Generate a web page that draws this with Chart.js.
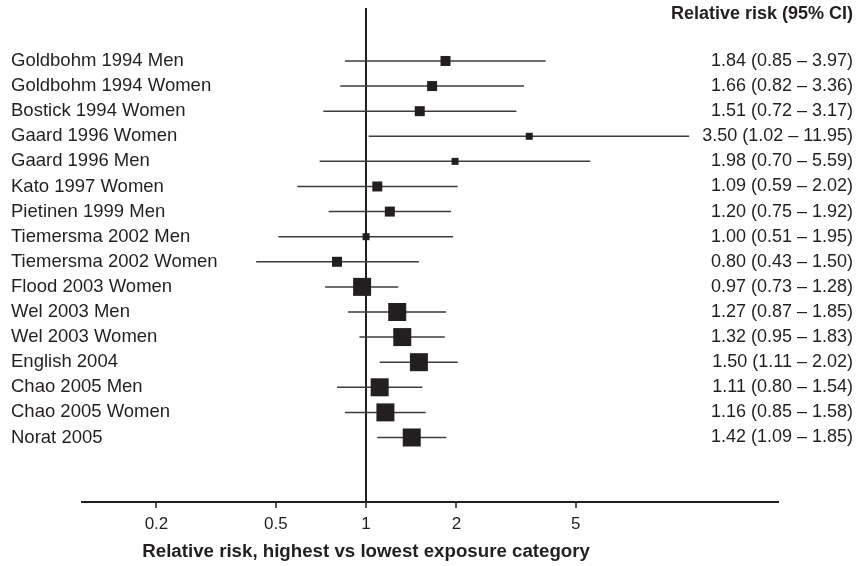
<!DOCTYPE html>
<html>
<head>
<meta charset="utf-8">
<script src="https://cdn.jsdelivr.net/npm/chart.js@4"></script>
<style>
  html, body { margin: 0; padding: 0; background: #ffffff; }
  #wrap { width: 856px; height: 566px; }
</style>
</head>
<body>
<div id="wrap"><canvas id="c" width="856" height="566"></canvas></div>
<script>
// ---- Data ----
const studies = [
  'Goldbohm 1994 Men', 'Goldbohm 1994 Women', 'Bostick 1994 Women', 'Gaard 1996 Women',
  'Gaard 1996 Men', 'Kato 1997 Women', 'Pietinen 1999 Men', 'Tiemersma 2002 Men',
  'Tiemersma 2002 Women', 'Flood 2003 Women', 'Wel 2003 Men', 'Wel 2003 Women',
  'English 2004', 'Chao 2005 Men', 'Chao 2005 Women', 'Norat 2005'
];
const estimates = [1.84, 1.66, 1.51, 3.50, 1.98, 1.09, 1.20, 1.00, 0.80, 0.97, 1.27, 1.32, 1.50, 1.11, 1.16, 1.42];
const lower     = [0.85, 0.82, 0.72, 1.02, 0.70, 0.59, 0.75, 0.51, 0.43, 0.73, 0.87, 0.95, 1.11, 0.80, 0.85, 1.09];
const upper     = [3.97, 3.36, 3.17, 11.95, 5.59, 2.02, 1.92, 1.95, 1.50, 1.28, 1.85, 1.83, 2.02, 1.54, 1.58, 1.85];
const weights   = [10, 10, 10, 7, 7, 10, 10, 7, 10, 18, 18, 18, 18, 18, 18, 18];
const xTicks = [0.2, 0.5, 1, 2, 5];
const headerLabel = 'Relative risk (95% CI)';
const xTitle = 'Relative risk, highest vs lowest exposure category';

// ---- Derived ----
const fmt = v => v.toFixed(2);
const rrText = estimates.map((e, i) => `${fmt(e)} (${fmt(lower[i])} \u2013 ${fmt(upper[i])})`);

const FONT = '"Liberation Sans", Arial, Helvetica, sans-serif';
const INK = '#231f20';

const ciData = [];
studies.forEach((_, i) => {
  ciData.push({ x: lower[i], y: i }, { x: upper[i], y: i }, { x: NaN, y: NaN });
});
const pointData = estimates.map((v, i) => ({ x: v, y: i }));

const xTitlePlugin = {
  id: 'xTitlePlugin',
  afterDraw(chart) {
    const { ctx, scales } = chart;
    const x = scales.x;
    ctx.save();
    ctx.font = 'bold 18.7px ' + FONT;
    ctx.fillStyle = INK;
    ctx.textAlign = 'center';
    ctx.textBaseline = 'middle';
    ctx.fillText(xTitle, x.getPixelForValue(1), x.bottom - 14);
    ctx.restore();
  }
};

const Y_MIN = -2.11, Y_MAX = 17.57;

new Chart(document.getElementById('c'), {
  type: 'scatter',
  data: {
    datasets: [
      {
        label: 'RR',
        data: pointData,
        pointStyle: 'rect',
        pointRadius: ctx => weights[ctx.dataIndex] / Math.SQRT2,
        pointHoverRadius: ctx => weights[ctx.dataIndex] / Math.SQRT2,
        backgroundColor: INK,
        borderWidth: 0,
        yAxisID: 'y',
        order: 0
      },
      {
        label: 'CI',
        data: ciData,
        showLine: true,
        spanGaps: false,
        borderColor: '#3d3d3d',
        borderWidth: 1.5,
        pointRadius: 0,
        pointHoverRadius: 0,
        yAxisID: 'y',
        order: 1
      }
    ]
  },
  options: {
    responsive: false,
    animation: false,
    events: [],
    layout: { autoPadding: false, padding: { left: 11, right: 3, top: 8, bottom: 0 } },
    plugins: { legend: { display: false }, tooltip: { enabled: false }, title: { display: false } },
    scales: {
      x: {
        type: 'logarithmic',
        position: 'bottom',
        min: 0.11293,
        max: 23.81,
        afterBuildTicks: s => { s.ticks = xTicks.map(v => ({ value: v })); },
        afterFit: s => { s.height = 64; s.paddingLeft = 0; s.paddingRight = 0; },
        ticks: {
          callback: v => String(v),
          font: { family: FONT, size: 17 },
          color: INK,
          padding: 6,
          maxRotation: 0,
          autoSkip: false
        },
        grid: {
          display: true,
          drawOnChartArea: true,
          drawTicks: true,
          tickLength: 6,
          tickColor: INK,
          tickWidth: 1.5,
          color: ctx => (ctx.tick && ctx.tick.value === 1) ? INK : 'rgba(0,0,0,0)',
          lineWidth: ctx => (ctx.tick && ctx.tick.value === 1) ? 2 : 0
        },
        border: { display: true, color: INK, width: 2 }
      },
      y: {
        type: 'linear',
        position: 'left',
        reverse: true,
        min: Y_MIN,
        max: Y_MAX,
        afterBuildTicks: s => { s.ticks = studies.map((_, i) => ({ value: i })); },
        afterFit: s => { s.width = 71; s.paddingTop = 0; s.paddingBottom = 0; },
        ticks: {
          callback: v => studies[v],
          mirror: true,
          font: { family: FONT, size: 18.5 },
          color: INK,
          padding: -71,
          autoSkip: false
        },
        grid: { display: false },
        border: { display: false }
      },
      y2: {
        type: 'linear',
        position: 'right',
        reverse: true,
        min: Y_MIN,
        max: Y_MAX,
        afterBuildTicks: s => { s.ticks = [{ value: -1.87 }].concat(studies.map((_, i) => ({ value: i }))); },
        afterFit: s => { s.width = 74; s.paddingTop = 0; s.paddingBottom = 0; },
        ticks: {
          callback: (v, i) => i === 0 ? headerLabel : rrText[i - 1],
          mirror: true,
          font: ctx => ({ family: FONT, size: 18, weight: ctx.index === 0 ? 'bold' : 'normal' }),
          color: INK,
          padding: 74,
          autoSkip: false
        },
        grid: { display: false },
        border: { display: false }
      }
    }
  },
  plugins: [xTitlePlugin]
});
</script>
</body>
</html>
